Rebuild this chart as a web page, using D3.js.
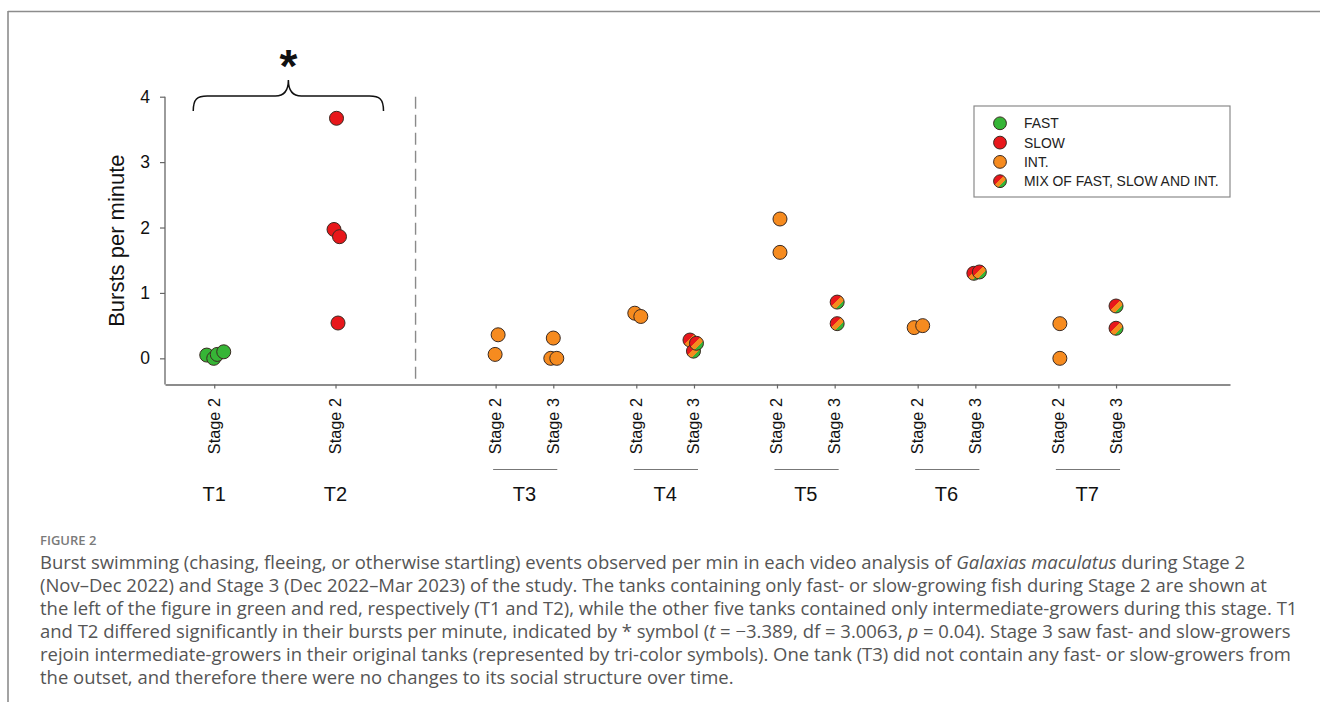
<!DOCTYPE html>
<html>
<head>
<meta charset="utf-8">
<script src="https://cdn.jsdelivr.net/npm/d3@7"></script>
<style>
  body { margin: 0; background: #fff; }
  svg { display: block; }
</style>
</head>
<body>
<svg id="chart" width="1320" height="702"></svg>
<script>
// ---- data -------------------------------------------------------------
const tanks = ["T1", "T2", "T3", "T4", "T5", "T6", "T7"];
const stageLabels = ["Stage 2", "Stage 3"];
const yTicks = [0, 1, 2, 3, 4];
const legendLabels = ["FAST", "SLOW", "INT.", "MIX OF FAST, SLOW AND INT."];
const legendKinds = ["fast", "slow", "int", "mix"];

// bursts per minute, one value per video analysis
const t1Stage2 = [0.05, 0.00, 0.06, 0.10];
const t2Stage2 = [1.97, 1.86, 0.54, 3.67];
const t3Stage2 = [0.36, 0.06];
const t3Stage3 = [0.31, 0.00, 0.00];
const t4Stage2 = [0.69, 0.64];
const t4Stage3 = [0.28, 0.11, 0.23];
const t5Stage2 = [2.13, 1.62];
const t5Stage3 = [0.86, 0.53];
const t6Stage2 = [0.47, 0.50];
const t6Stage3 = [1.30, 1.32];
const t7Stage2 = [0.53, 0.00];
const t7Stage3 = [0.80, 0.46];

// group composition of each tank/stage
const groups = [
  { tank: "T1", stage: "Stage 2", kind: "fast", values: t1Stage2 },
  { tank: "T2", stage: "Stage 2", kind: "slow", values: t2Stage2 },
  { tank: "T3", stage: "Stage 2", kind: "int",  values: t3Stage2 },
  { tank: "T3", stage: "Stage 3", kind: "int",  values: t3Stage3 },
  { tank: "T4", stage: "Stage 2", kind: "int",  values: t4Stage2 },
  { tank: "T4", stage: "Stage 3", kind: "mix",  values: t4Stage3 },
  { tank: "T5", stage: "Stage 2", kind: "int",  values: t5Stage2 },
  { tank: "T5", stage: "Stage 3", kind: "mix",  values: t5Stage3 },
  { tank: "T6", stage: "Stage 2", kind: "int",  values: t6Stage2 },
  { tank: "T6", stage: "Stage 3", kind: "mix",  values: t6Stage3 },
  { tank: "T7", stage: "Stage 2", kind: "int",  values: t7Stage2 },
  { tank: "T7", stage: "Stage 3", kind: "mix",  values: t7Stage3 }
];

// ---- layout -----------------------------------------------------------
// horizontal spread (px) of overlapping symbols within a column
const jitterPx = {
  "T1|Stage 2": [-7.5, -0.5, 3, 9.5],
  "T2|Stage 2": [-1.5, 4, 2.5, 1],
  "T3|Stage 2": [2.5, -0.5],
  "T3|Stage 3": [0, -2.5, 3.5],
  "T4|Stage 2": [-1.5, 4.5],
  "T4|Stage 3": [-4, -0.5, 2.5],
  "T5|Stage 2": [3, 3],
  "T5|Stage 3": [2.5, 2.5],
  "T6|Stage 2": [-3.5, 5],
  "T6|Stage 3": [-1.5, 4],
  "T7|Stage 2": [1.5, 1.5],
  "T7|Stage 3": [0, 0]
};

const colors = { fast: "#36b536", slow: "#e8171b", int: "#f68b1f" };

// slot position of a column along the x axis
function slot(tank, stage) {
  const i = tanks.indexOf(tank);
  if (i === 0) return 0;
  if (i === 1) return 0.862;
  return i + (stage === "Stage 3" ? 0.41 : 0);
}

const svg = d3.select("#chart");
const font = "'Liberation Sans', Arial, sans-serif";

const x = d3.scaleLinear().domain([-0.35, 7.22]).range([165, 1230]);
const y = d3.scaleLinear().domain([-0.4, 4]).range([384.5, 96.7]);

// gradient for the tri-colour symbol
const defs = svg.append("defs");
const grad = defs.append("linearGradient")
  .attr("id", "mixFill").attr("x1", 0).attr("y1", 0).attr("x2", 1).attr("y2", 1);
[[0, colors.slow], [0.43, colors.slow], [0.43, colors.int], [0.68, colors.int],
 [0.68, colors.fast], [1, colors.fast]].forEach(([o, c]) =>
  grad.append("stop").attr("offset", o).attr("stop-color", c));

const fillOf = k => k === "mix" ? "url(#mixFill)" : colors[k];

// page frame
svg.append("line").attr("x1", 8).attr("x2", 1320).attr("y1", 11.5).attr("y2", 11.5)
  .attr("stroke", "#8c8c8c").attr("stroke-width", 1.6);
svg.append("line").attr("x1", 8).attr("x2", 8).attr("y1", 11).attr("y2", 702)
  .attr("stroke", "#8c8c8c").attr("stroke-width", 1.6);

// ---- axes -------------------------------------------------------------
const yAxis = svg.append("g").attr("transform", `translate(${x.range()[0]},0)`)
  .call(d3.axisLeft(y).tickValues(yTicks).tickFormat(d3.format("d"))
        .tickSize(5).tickSizeOuter(0).tickPadding(10));
yAxis.select(".domain").attr("stroke", "#666").attr("stroke-width", 1.3)
  .attr("d", `M0,${y(4)}V${y.range()[0]}`);
yAxis.selectAll(".tick line").attr("stroke", "#666").attr("stroke-width", 1.2);
yAxis.selectAll(".tick text").attr("font-family", font).attr("font-size", 17.5).attr("fill", "#111");

const columns = groups.map(g => ({ tank: g.tank, stage: g.stage, pos: slot(g.tank, g.stage) }));

const xAxis = svg.append("g").attr("transform", `translate(0,${y.range()[0]})`)
  .call(d3.axisBottom(x).tickValues(columns.map(c => c.pos)).tickSize(4)
        .tickSizeOuter(0).tickFormat(""));
xAxis.select(".domain").attr("stroke", "#666").attr("stroke-width", 1.3);
xAxis.selectAll(".tick line").attr("stroke", "#666").attr("stroke-width", 1.2);

// rotated stage labels under each column
svg.append("g").selectAll("text").data(columns).join("text")
  .attr("transform", d => `translate(${x(d.pos) + 5.5},398) rotate(-90)`)
  .attr("text-anchor", "end")
  .attr("font-family", font).attr("font-size", 16.3).attr("fill", "#111")
  .text(d => d.stage);

// tank labels and the short rule that pairs the two stages
tanks.forEach(t => {
  const cols = columns.filter(c => c.tank === t);
  const xs = cols.map(c => x(c.pos));
  const cx = d3.mean(xs);
  if (cols.length > 1) {
    svg.append("line")
      .attr("x1", d3.min(xs) - 2.5).attr("x2", d3.max(xs) + 4)
      .attr("y1", 469.5).attr("y2", 469.5)
      .attr("stroke", "#777").attr("stroke-width", 1.2);
  }
  svg.append("text").attr("x", cx).attr("y", 501)
    .attr("text-anchor", "middle").attr("font-family", font)
    .attr("font-size", 20).attr("fill", "#111").text(t);
});

// y axis title
svg.append("text")
  .attr("transform", `translate(124,${(y(4) + y.range()[0]) / 2}) rotate(-90)`)
  .attr("text-anchor", "middle").attr("font-family", font)
  .attr("font-size", 22).attr("fill", "#111").text("Bursts per minute");

// dashed divider between the single-group tanks and the rest
const divX = (x(slot("T2", "Stage 2")) + x(slot("T3", "Stage 2"))) / 2;
svg.append("line").attr("x1", divX).attr("x2", divX)
  .attr("y1", y(4)).attr("y2", y.range()[0])
  .attr("stroke", "#8a8a8a").attr("stroke-width", 1.4).attr("stroke-dasharray", "12,6");

// brace over T1 and T2 with the significance asterisk
const bx0 = x(slot("T1", "Stage 2")) - 21;
const bx1 = x(slot("T2", "Stage 2")) + 48;
const bcx = (bx0 + bx1) / 2;
const bTop = 96, bEnd = 111, bTip = 80;
svg.append("path")
  .attr("d", `M${bx0},${bEnd} C${bx0},${bTop + 3} ${bx0 + 4},${bTop} ${bx0 + 14},${bTop}
              L${bcx - 13},${bTop} C${bcx - 5},${bTop} ${bcx},${bTop - 4} ${bcx},${bTip}
              C${bcx},${bTop - 4} ${bcx + 5},${bTop} ${bcx + 13},${bTop}
              L${bx1 - 14},${bTop} C${bx1 - 4},${bTop} ${bx1},${bTop + 3} ${bx1},${bEnd}`)
  .attr("fill", "none").attr("stroke", "#111").attr("stroke-width", 1.5);
svg.append("text").attr("x", bcx).attr("y", 82)
  .attr("text-anchor", "middle").attr("font-family", font)
  .attr("font-size", 46).attr("font-weight", "bold").attr("fill", "#111").text("*");

// ---- points -----------------------------------------------------------
const pts = [];
groups.forEach(g => {
  const jit = jitterPx[`${g.tank}|${g.stage}`];
  g.values.forEach((v, i) => pts.push({
    cx: x(slot(g.tank, g.stage)) + jit[i], v, kind: g.kind
  }));
});
svg.append("g").selectAll("circle").data(pts).join("circle")
  .attr("cx", d => d.cx).attr("cy", d => y(d.v)).attr("r", 7)
  .attr("fill", d => fillOf(d.kind))
  .attr("stroke", "#3a2a22").attr("stroke-width", 1);

// ---- legend -----------------------------------------------------------
const lg = svg.append("g").attr("transform", "translate(974,106)");
lg.append("rect").attr("width", 256).attr("height", 91)
  .attr("fill", "#fff").attr("stroke", "#8a8a8a").attr("stroke-width", 1.2);
const li = lg.selectAll("g.item").data(legendLabels).join("g")
  .attr("transform", (d, i) => `translate(0,${17.3 + i * 19.3})`);
li.append("circle").attr("cx", 26).attr("r", 6.4)
  .attr("fill", (d, i) => fillOf(legendKinds[i]))
  .attr("stroke", "#3a2a22").attr("stroke-width", 1);
li.append("text").attr("x", 50).attr("dy", "0.36em")
  .attr("font-family", font).attr("font-size", 13.9).attr("fill", "#222")
  .text(d => d);

// ---- caption ----------------------------------------------------------
const capFont = "'Open Sans', 'Noto Sans', sans-serif";
svg.append("text").attr("x", 40).attr("y", 545)
  .attr("font-family", capFont).attr("font-size", 13).attr("font-weight", 600)
  .attr("fill", "#7a7a7a").text("FIGURE 2");

const captionLines = [
  [["Burst swimming (chasing, fleeing, or otherwise startling) events observed per min in each video analysis of ", 0], ["Galaxias maculatus", 1], [" during Stage 2", 0]],
  [["(Nov\u2013Dec 2022) and Stage 3 (Dec 2022\u2013Mar 2023) of the study. The tanks containing only fast- or slow-growing fish during Stage 2 are shown at", 0]],
  [["the left of the figure in green and red, respectively (T1 and T2), while the other five tanks contained only intermediate-growers during this stage. T1", 0]],
  [["and T2 differed significantly in their bursts per minute, indicated by * symbol (", 0], ["t", 1], [" = \u22123.389, df = 3.0063, ", 0], ["p", 1], [" = 0.04). Stage 3 saw fast- and slow-growers", 0]],
  [["rejoin intermediate-growers in their original tanks (represented by tri-color symbols). One tank (T3) did not contain any fast- or slow-growers from", 0]],
  [["the outset, and therefore there were no changes to its social structure over time.", 0]]
];
const cap = svg.append("g");
captionLines.forEach((line, i) => {
  const t = cap.append("text").attr("x", 40).attr("y", 569 + i * 23)
    .attr("font-family", capFont).attr("font-size", 16).attr("fill", "#555");
  line.forEach(([s, it]) => t.append("tspan")
    .attr("font-style", it ? "italic" : "normal").text(s));
});
// scale the caption so the fourth line ends where the column does
const ref = cap.selectAll("text").nodes()[3];
const w = ref.getComputedTextLength();
const fs = 16 * (1251 / w);
cap.selectAll("text").attr("font-size", fs);
</script>
</body>
</html>
